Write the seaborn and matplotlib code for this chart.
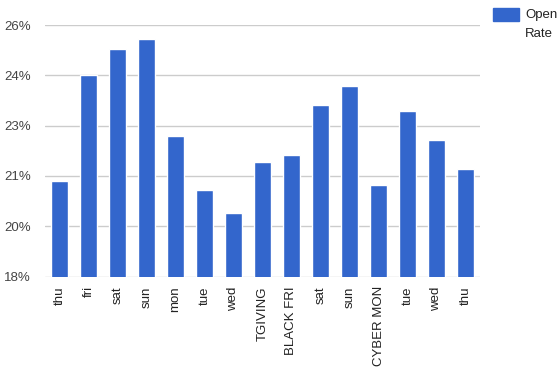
import matplotlib
matplotlib.use("Agg")
import matplotlib.pyplot as plt
from matplotlib.patches import Rectangle
import seaborn as sns
import pandas as pd

# Open rates by day around Thanksgiving week
days = ["thu", "fri", "sat", "sun", "mon", "tue", "wed", "TGIVING", "BLACK FRI",
        "sat", "sun", "CYBER MON", "tue", "wed", "thu"]
open_rate = [0.2104, 0.2441, 0.2525, 0.2554, 0.2248, 0.2076, 0.2002, 0.2165, 0.2187,
             0.2347, 0.2407, 0.2092, 0.2327, 0.2235, 0.2143]
y_ticks = [0.18, 0.196, 0.212, 0.228, 0.244, 0.26]
y_labels = ["18%", "20%", "21%", "23%", "24%", "26%"]

sns.set_style("white")
plt.rcParams["font.family"] = ["Liberation Sans", "DejaVu Sans"]

df = pd.DataFrame({"pos": range(len(days)), "rate": open_rate})

fig = plt.figure(figsize=(5.6, 3.67), dpi=100)
ax = fig.add_axes([45 / 560, 1 - 276.5 / 367, 435 / 560, 251.5 / 367])

sns.barplot(data=df, x="pos", y="rate", color="#3366cc", saturation=1,
            width=0.62, ax=ax, zorder=3)

ax.set_ylim(0.18, 0.26)
ax.set_xlim(-0.5, len(days) - 0.5)
ax.set_yticks(y_ticks)
ax.set_yticklabels(y_labels)
ax.set_xticks(range(len(days)))
ax.set_xticklabels(days, rotation=90)
ax.tick_params(axis="y", length=0, pad=10, labelsize=9.5, labelcolor="#444444")
ax.tick_params(axis="x", length=0, pad=7, labelsize=9.5, labelcolor="#222222")
ax.grid(axis="y", color="#cccccc", linewidth=1, zorder=0)
ax.set_xlabel("")
ax.set_ylabel("")
for s in ax.spines.values():
    s.set_visible(False)

# legend on the right, top aligned
fig.patches.append(Rectangle((493 / 560, 1 - 21 / 367), 26 / 560, 13 / 367,
                             transform=fig.transFigure, color="#3366cc"))
fig.text(525 / 560, 1 - 9 / 367, "Open\nRate", ha="left", va="top",
         fontsize=9.5, color="#222222", linespacing=1.75)

fig.savefig("out.png", dpi=100)
